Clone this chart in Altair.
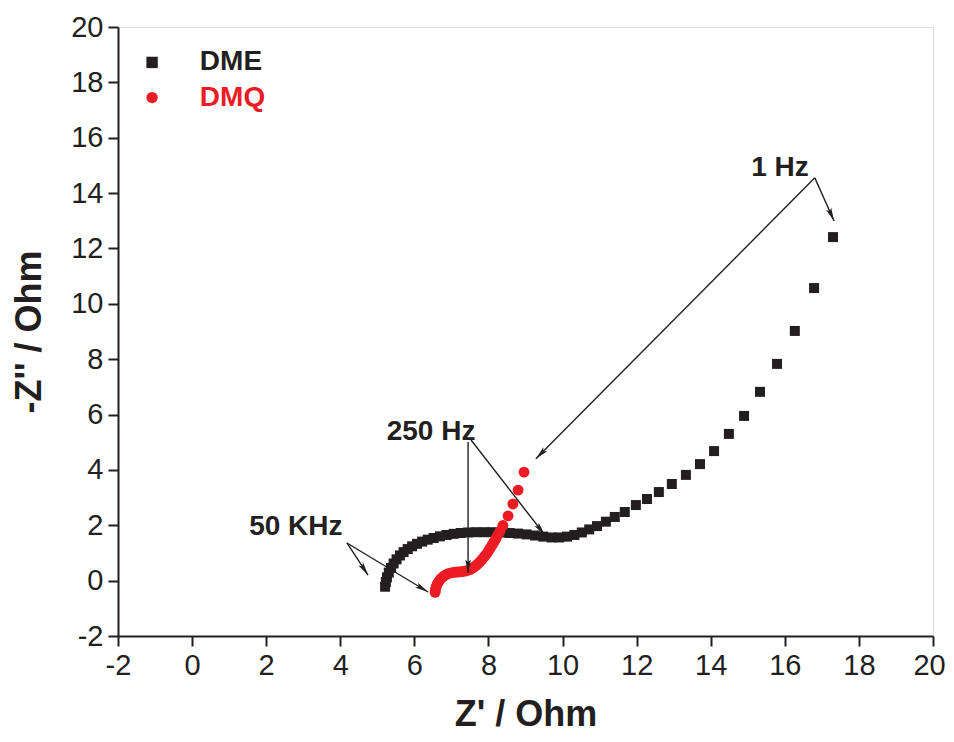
import math
import altair as alt
import pandas as pd

# ---------------- data ----------------
dme_x = [5.21, 5.23, 5.26, 5.31, 5.37, 5.44, 5.52, 5.61, 5.71, 5.82, 5.94, 6.07, 6.21, 6.36,
         6.52, 6.69, 6.87, 7.06, 7.25, 7.45, 7.66, 7.88, 8.11, 8.34, 8.57, 8.80, 9.03, 9.26,
         9.48, 9.70, 9.91, 10.12, 10.32, 10.52, 10.72, 10.93, 11.17, 11.41, 11.68, 11.98,
         12.28, 12.60, 12.95, 13.33, 13.71, 14.09, 14.49, 14.90, 15.33, 15.79, 16.27, 16.79, 17.30]
dme_y = [-0.22, -0.05, 0.12, 0.29, 0.46, 0.62, 0.77, 0.91, 1.03, 1.14, 1.24, 1.33, 1.41, 1.48,
         1.54, 1.60, 1.65, 1.69, 1.72, 1.74, 1.75, 1.75, 1.75, 1.74, 1.72, 1.70, 1.67, 1.63,
         1.59, 1.56, 1.56, 1.59, 1.65, 1.74, 1.85, 1.97, 2.13, 2.30, 2.48, 2.73,
         2.95, 3.20, 3.49, 3.82, 4.21, 4.68, 5.30, 5.95, 6.82, 7.83, 9.02, 10.57, 12.41]

dmq_x = [6.56, 6.57, 6.59, 6.62, 6.66, 6.71, 6.77, 6.84, 6.91, 6.99, 7.07, 7.15, 7.23, 7.31,
         7.39, 7.46, 7.53, 7.59, 7.65, 7.71, 7.77, 7.83, 7.89, 7.95, 8.00, 8.05, 8.10, 8.15,
         8.20, 8.25, 8.31, 8.39, 8.53, 8.66, 8.80, 8.96]
dmq_y = [-0.42, -0.32, -0.22, -0.12, -0.03, 0.06, 0.14, 0.20, 0.25, 0.28, 0.30, 0.31, 0.32, 0.33,
         0.35, 0.38, 0.42, 0.47, 0.53, 0.60, 0.68, 0.77, 0.87, 0.97, 1.07, 1.18, 1.29, 1.40,
         1.52, 1.64, 1.78, 1.99, 2.34, 2.77, 3.27, 3.92]

series_names = ["DME", "DMQ"]
series_colors = ["#231f20", "#ed1c24"]
series_shapes = ["square", "circle"]
series_sizes = [100, 120]

# annotation labels
ann_text = ["1 Hz", "250 Hz", "50 KHz"]
ann_tx = [15.87, 6.45, 2.80]
ann_ty = [14.90, 5.37, 1.94]

# arrows (start -> tip)
arr_x1 = [16.81, 16.81, 7.45, 7.53, 4.18, 4.18]
arr_y1 = [14.55, 14.55, 5.01, 5.08, 1.36, 1.36]
arr_x2 = [9.28, 17.33, 7.45, 9.52, 4.75, 6.37]
arr_y2 = [4.40, 12.99, 0.28, 1.65, 0.20, -0.41]

# legend
leg_x = -1.08
leg_tx = 0.21
leg_y = [18.72, 17.45]

X_DOM = [-2, 20]
Y_DOM = [-2, 20]
W, H = 815, 609

# ---------------- frames ----------------
pts = pd.DataFrame({
    "x": dme_x + dmq_x,
    "y": dme_y + dmq_y,
    "s": ["DME"] * len(dme_x) + ["DMQ"] * len(dmq_x),
})

ang = []
for a, b, c, d in zip(arr_x1, arr_y1, arr_x2, arr_y2):
    dxp = (c - a) * W / (X_DOM[1] - X_DOM[0])
    dyp = -(d - b) * H / (Y_DOM[1] - Y_DOM[0])
    ang.append(math.degrees(math.atan2(dxp, -dyp)) % 360)
arrows = pd.DataFrame({"x": arr_x1, "y": arr_y1, "x2": arr_x2, "y2": arr_y2, "ang": ang})
heads = pd.DataFrame({"x": arr_x2, "y": arr_y2, "ang": ang})
anns = pd.DataFrame({"x": ann_tx, "y": ann_ty, "t": ann_text})
leg = pd.DataFrame({"x": [leg_x] * 2, "tx": [leg_tx] * 2, "y": leg_y, "s": series_names})

FONT = "Liberation Sans"

def make_axis(title, pad, last_offset):
    return alt.Axis(
        title=title, values=list(range(-2, 21)),
        labelExpr="datum.value % 2 == 0 ? '' + datum.value : ''",
        tickSize={"condition": {"test": "datum.value % 2 == 0", "value": 10}, "value": 5},
        labelOffset={"condition": {"test": "datum.value == 20", "value": last_offset}, "value": 0},
        tickWidth=2, tickColor="#231f20", domainColor="#231f20", domainWidth=2,
        labelFontSize=29, labelFont=FONT, labelColor="#231f20", labelPadding=5,
        titleFontSize=36, titleFont=FONT, titleFontWeight="bold", titleColor="#231f20",
        titlePadding=pad, grid=False, labelFlush=False,
    )

xs = alt.Scale(domain=X_DOM, nice=False, zero=False)
ys = alt.Scale(domain=Y_DOM, nice=False, zero=False)

base_x = alt.X("x:Q", scale=xs, axis=make_axis("Z' / Ohm", 17, -4))
base_y = alt.Y("y:Q", scale=ys, axis=make_axis("-Z'' / Ohm", 22, 0))

color_enc = alt.Color("s:N", scale=alt.Scale(domain=series_names, range=series_colors), legend=None)
shape_enc = alt.Shape("s:N", scale=alt.Scale(domain=series_names, range=series_shapes), legend=None)
size_enc = alt.Size("s:N", scale=alt.Scale(domain=series_names, range=series_sizes), legend=None)

points = alt.Chart(pts).mark_point(filled=True, opacity=1).encode(
    x=base_x, y=base_y, color=color_enc, shape=shape_enc, size=size_enc,
)

rules = alt.Chart(arrows).mark_rule(color="#231f20", strokeWidth=1.4).encode(
    x=alt.X("x:Q", scale=xs), y=alt.Y("y:Q", scale=ys), x2="x2:Q", y2="y2:Q",
)

heads_l = alt.Chart(heads).mark_point(
    filled=True, opacity=1, color="#231f20", size=180,
    shape="M0,0 L0.42,2 L0,1.6 L-0.42,2 Z",
).encode(
    x=alt.X("x:Q", scale=xs), y=alt.Y("y:Q", scale=ys),
    angle=alt.Angle("ang:Q", scale=None),
)

texts = alt.Chart(anns).mark_text(
    font=FONT, fontSize=28, fontWeight="bold", color="#231f20", align="center", baseline="middle",
).encode(x=alt.X("x:Q", scale=xs), y=alt.Y("y:Q", scale=ys), text="t:N")

leg_pts = alt.Chart(leg).mark_point(filled=True, opacity=1, size=130).encode(
    x=alt.X("x:Q", scale=xs), y=alt.Y("y:Q", scale=ys), color=color_enc, shape=shape_enc,
)
leg_txt = alt.Chart(leg).mark_text(
    font=FONT, fontSize=28, fontWeight="bold", align="left", baseline="middle",
).encode(
    x=alt.X("tx:Q", scale=xs), y=alt.Y("y:Q", scale=ys), text="s:N", color=color_enc,
)

chart = alt.layer(points, rules, heads_l, texts, leg_pts, leg_txt).properties(
    width=W, height=H,
    autosize=alt.AutoSizeParams(type="none"),
    padding={"left": 110, "top": 19, "right": 12, "bottom": 97},
).configure_view(stroke="#231f20", strokeWidth=2).configure(background="white")

chart.save("out.html", embed_options={"renderer": "svg", "actions": False})
